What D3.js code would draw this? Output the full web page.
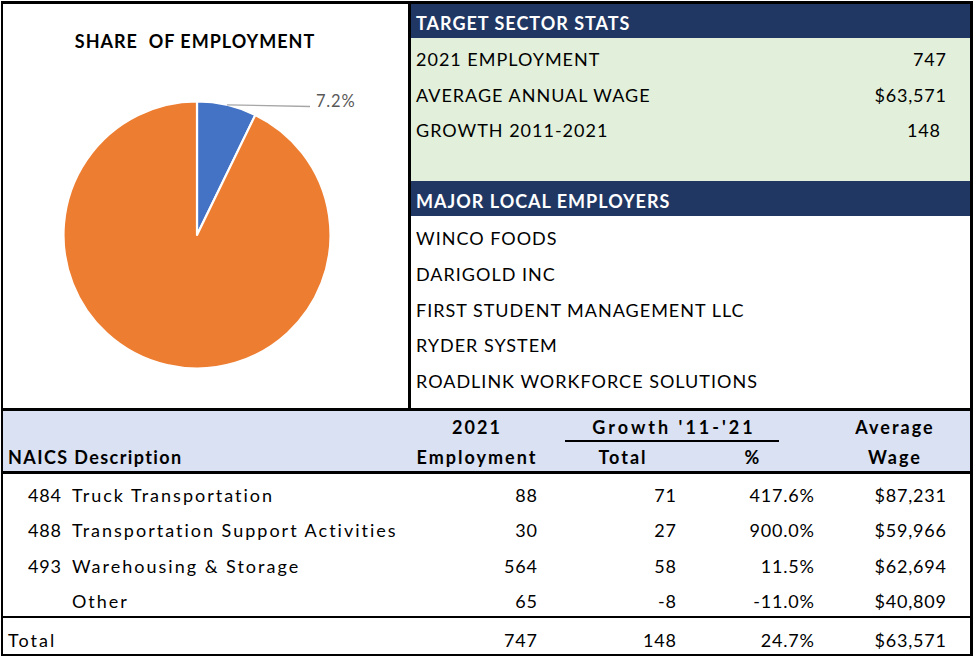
<!DOCTYPE html>
<html>
<head>
<meta charset="utf-8">
<script src="https://cdn.jsdelivr.net/npm/d3@7"></script>
<style>
  html, body { margin: 0; padding: 0; background: #fff; }
  svg { display: block; }
  text { font-family: Lato, "Open Sans", sans-serif; white-space: pre; }
  .up  { letter-spacing: 1px; }
  .mix { letter-spacing: 2px; }
  .mixs { letter-spacing: 1.4px; }
  .mixw { letter-spacing: 3px; }
  .num { letter-spacing: 0.8px; }
</style>
</head>
<body>
<div id="chart"></div>
<script>
// ---------------- DATA ----------------
const pieTitle = "SHARE  OF EMPLOYMENT";
const pieCategories = ["Target Sector", "All Other Employment"];
const pieValues = [7.2, 92.8];
const pieLabelText = "7.2%";

const statsTitle = "TARGET SECTOR STATS";
const statLabels = ["2021 EMPLOYMENT", "AVERAGE ANNUAL WAGE", "GROWTH 2011-2021"];
const statValues = ["747", "$63,571", "148"];

const employersTitle = "MAJOR LOCAL EMPLOYERS";
const employers = ["WINCO FOODS", "DARIGOLD INC", "FIRST STUDENT MANAGEMENT LLC", "RYDER SYSTEM", "ROADLINK WORKFORCE SOLUTIONS"];

const naicsCodes = ["484", "488", "493", ""];
const descriptions = ["Truck Transportation", "Transportation Support Activities", "Warehousing & Storage", "Other"];
const employment2021 = [88, 30, 564, 65];
const growthTotal = [71, 27, 58, -8];
const growthPct = ["417.6%", "900.0%", "11.5%", "-11.0%"];
const avgWage = ["$87,231", "$59,966", "$62,694", "$40,809"];
const totalRow = { label: "Total", employment: 747, growth: 148, pct: "24.7%", wage: "$63,571" };

// ---------------- SETUP ----------------
const W = 974, H = 656;
const svg = d3.select("#chart").append("svg").attr("width", W).attr("height", H);

const NAVY = "#203764", GREEN = "#E2EFDA", LAV = "#D9E1F2";
const fs = 18;
const LS_NUM = 0.8; // compensation for trailing letter-spacing on right-aligned numbers

// backgrounds
svg.append("rect").attr("x", 411).attr("y", 4).attr("width", 560).attr("height", 34).attr("fill", NAVY);
svg.append("rect").attr("x", 411).attr("y", 38).attr("width", 560).attr("height", 143).attr("fill", GREEN);
svg.append("rect").attr("x", 411).attr("y", 181).attr("width", 560).attr("height", 35).attr("fill", NAVY);
svg.append("rect").attr("x", 2).attr("y", 411).attr("width", 969).attr("height", 60).attr("fill", LAV);

// ---------------- PIE ----------------
const cx = 197, cy = 235, R = 133.5;
const pie = d3.pie().sort(null).value(d => d)(pieValues);
const arc = d3.arc().innerRadius(0).outerRadius(R);
const colors = d3.scaleOrdinal().domain(pieCategories).range(["#4472C4", "#ED7D31"]);
const pg = svg.append("g").attr("transform", `translate(${cx},${cy})`);
pg.selectAll("path").data(pie).join("path")
  .attr("d", arc)
  .attr("fill", (d, i) => colors(pieCategories[i]))
  .attr("stroke", "#fff").attr("stroke-width", 2.2).attr("stroke-linejoin", "round");

svg.append("text").attr("class", "up").attr("x", 195).attr("y", 48).attr("text-anchor", "middle")
  .attr("font-weight", "bold").attr("font-size", fs).attr("fill", "#000").text(pieTitle);

// leader line for first slice
const s0 = pie[0];
const mid = (s0.startAngle + s0.endAngle) / 2;
const p0 = [cx + R * Math.sin(mid), cy - R * Math.cos(mid)];
svg.append("line").attr("x1", p0[0]).attr("y1", p0[1]).attr("x2", 310).attr("y2", 106.5)
  .attr("stroke", "#A6A6A6").attr("stroke-width", 1.3);
svg.append("text").attr("class", "num").attr("x", 316).attr("y", 107).attr("font-size", 16.5)
  .attr("fill", "#595959").text(pieLabelText);

// ---------------- STATS PANEL ----------------
svg.append("text").attr("class", "up").attr("x", 416).attr("y", 30).attr("font-weight", "bold").attr("font-size", fs)
  .attr("fill", "#fff").text(statsTitle);
const statY = d3.scalePoint().domain(statLabels).range([66, 137]);
const statRight = [946, 946, 940];
svg.append("g").selectAll("text").data(statLabels).join("text").attr("class", "up")
  .attr("x", 416).attr("y", d => statY(d)).attr("font-size", fs).attr("fill", "#000").text(d => d);
svg.append("g").selectAll("text").data(statValues).join("text").attr("class", "num")
  .attr("x", (d, i) => statRight[i] + LS_NUM).attr("y", (d, i) => statY(statLabels[i]))
  .attr("text-anchor", "end").attr("font-size", fs).attr("fill", "#000").text(d => d);

svg.append("text").attr("class", "up").attr("x", 416).attr("y", 208).attr("font-weight", "bold").attr("font-size", fs)
  .attr("fill", "#fff").text(employersTitle);
const empY = d3.scalePoint().domain(employers).range([245, 388]);
svg.append("g").selectAll("text").data(employers).join("text").attr("class", "up")
  .attr("x", 416).attr("y", d => empY(d)).attr("font-size", fs).attr("fill", "#000").text(d => d);

// ---------------- TABLE ----------------
const hdr = svg.append("g").attr("font-weight", "bold").attr("font-size", fs).attr("fill", "#000");
const hText = (x, y, t, anchor, cls) => hdr.append("text").attr("class", cls).attr("x", x).attr("y", y)
  .attr("text-anchor", anchor).text(t);
hText(477, 434, "2021", "middle", "mix");
hText(674, 434, "Growth '11-'21", "middle", "mixw");
hText(895, 434, "Average", "middle", "mix");
hText(8, 464, "NAICS Description", "start", "mixs");
hText(477, 464, "Employment", "middle", "mix");
hText(623, 464, "Total", "middle", "mix");
hText(753, 464, "%", "middle", "mix");
hText(895, 464, "Wage", "middle", "mix");
svg.append("line").attr("x1", 565).attr("x2", 779).attr("y1", 441).attr("y2", 441)
  .attr("stroke", "#000").attr("stroke-width", 2);

const colRight = { code: 61, emp: 537, gtot: 676, gpct: 814, wage: 946 };
const rowY = d3.scalePoint().domain(d3.range(descriptions.length)).range([502, 608]);
const rows = svg.append("g").attr("font-size", fs).attr("fill", "#000");
const rowSel = rows.selectAll("g").data(descriptions).join("g")
  .attr("transform", (d, i) => `translate(0,${rowY(i)})`);
const numCol = (sel, x, f) => sel.append("text").attr("class", "num").attr("x", x + LS_NUM)
  .attr("text-anchor", "end").text(f);
numCol(rowSel, colRight.code, (d, i) => naicsCodes[i]);
rowSel.append("text").attr("class", "mix").attr("x", 72).text(d => d);
numCol(rowSel, colRight.emp, (d, i) => employment2021[i]);
numCol(rowSel, colRight.gtot, (d, i) => growthTotal[i]);
numCol(rowSel, colRight.gpct, (d, i) => growthPct[i]);
numCol(rowSel, colRight.wage, (d, i) => avgWage[i]);

const tot = svg.append("g").attr("font-size", fs).attr("fill", "#000").attr("transform", "translate(0,647)");
tot.append("text").attr("class", "mix").attr("x", 8).text(totalRow.label);
numCol(tot, colRight.emp, totalRow.employment);
numCol(tot, colRight.gtot, totalRow.growth);
numCol(tot, colRight.gpct, totalRow.pct);
numCol(tot, colRight.wage, totalRow.wage);

// ---------------- BORDERS ----------------
const ln = (x1, y1, x2, y2, w) => svg.append("line").attr("x1", x1).attr("y1", y1).attr("x2", x2).attr("y2", y2)
  .attr("stroke", "#000").attr("stroke-width", w);
ln(1, 2.5, 973, 2.5, 3);       // top
ln(2, 1, 2, 656, 2);           // left
ln(971.5, 1, 971.5, 656, 3);   // right
ln(409.5, 1, 409.5, 411, 3);   // divider
ln(1, 409.5, 973, 409.5, 3);   // mid horizontal
ln(1, 472.5, 973, 472.5, 3);   // under header
ln(1, 617, 973, 617, 2);       // above total
ln(1, 655, 973, 655, 2);       // bottom
</script>
</body>
</html>
